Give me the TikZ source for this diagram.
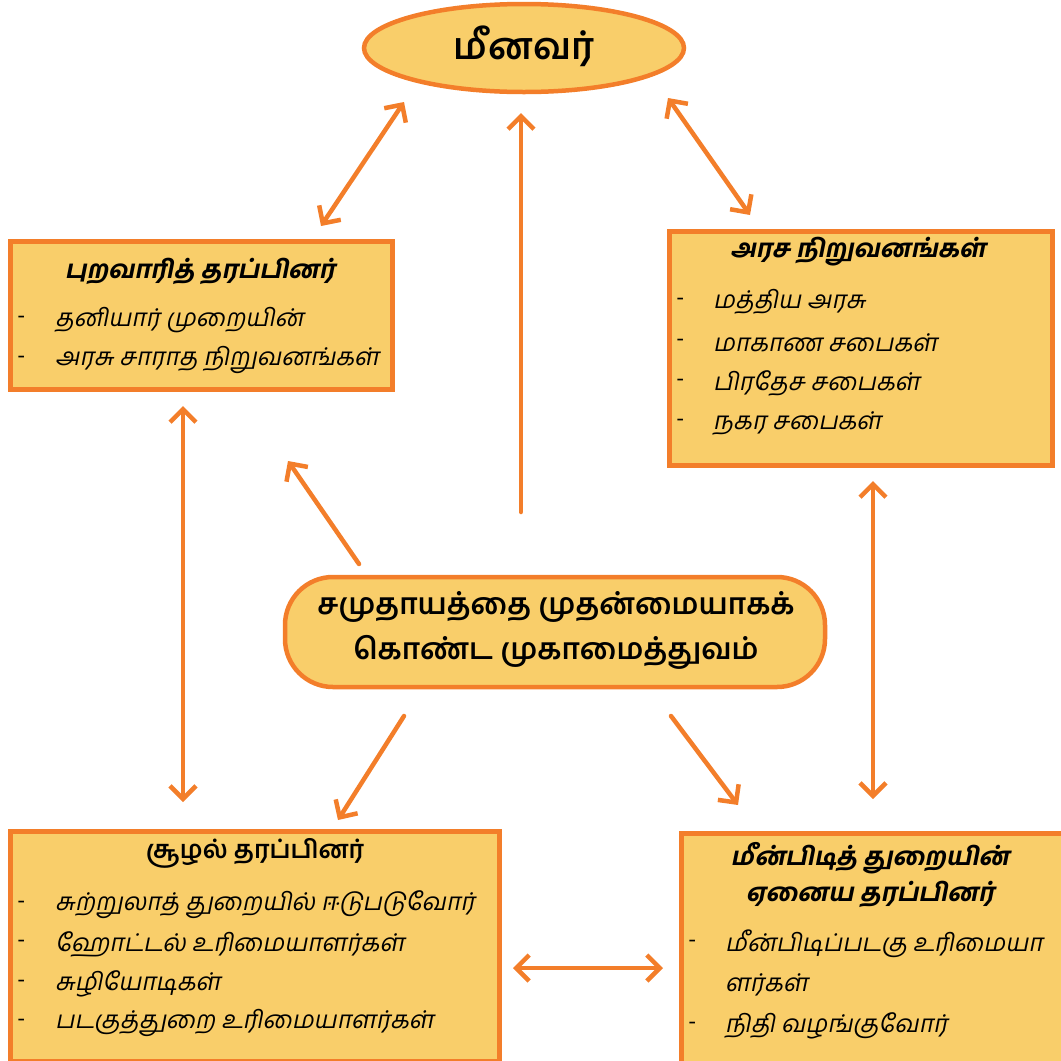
\documentclass[tikz,border=0pt]{standalone}
\usepackage{fontspec}
\setmainfont{Hind Madurai}[Script=Tamil, ItalicFont={Hind Madurai}, ItalicFeatures={FakeSlant=0.2}, BoldItalicFont={Hind Madurai Bold}, BoldItalicFeatures={FakeSlant=0.2}]
\usetikzlibrary{arrows.meta,shapes.geometric}
\definecolor{boxfill}{RGB}{249,206,106}
\definecolor{boxline}{RGB}{243,126,42}
\tikzset{
  box/.style={draw=boxline, fill=boxfill, line width=4.5pt, inner sep=0pt, anchor=north west},
  head/.style={font=\fontsize{25}{29}\selectfont\bfseries, anchor=center, align=center},
  headit/.style={font=\fontsize{25}{36}\selectfont\bfseries\itshape, anchor=center, align=center},
  item/.style={font=\fontsize{24.5}{28}\selectfont\itshape, anchor=west, inner sep=0pt},
  dashmark/.style={font=\fontsize{24}{28}\selectfont, anchor=west, inner sep=0pt},
  conn/.style={draw=boxline, line width=4.5pt, line cap=round},
  bi/.style={conn, {Straight Barb[length=13pt,width=26pt]}-{Straight Barb[length=13pt,width=26pt]}},
  uni/.style={conn, -{Straight Barb[length=13pt,width=26pt]}},
}
\begin{document}
\begin{tikzpicture}[x=1pt,y=-1pt]
\useasboundingbox (0,0) rectangle (1061,1061);
% ellipse
\node[ellipse, draw=boxline, fill=boxfill, line width=4.5pt, minimum width=320pt, minimum height=88pt, inner sep=0pt] (fish) at (524,48) {};
\node[font=\fontsize{37}{40}\selectfont\bfseries] (fisht) at (524,46) {மீனவர்};
% top left box
\node[box, minimum width=382pt, minimum height=148pt] (lt) at (8,239) {};
\node[headit] (ltt) at (200,271) {புறவாரித் தரப்பினர்};
\node[dashmark] (ltd1) at (17,320) {-};
\node[item] (lti1) at (55,320) {தனியார் முறையின்};
\node[dashmark] (ltd2) at (17,360) {-};
\node[item] (lti2) at (55,360) {அரசு சாராத நிறுவனங்கள்};
% top right box
\node[box, minimum width=383pt, minimum height=234pt] (rt) at (667,229) {};
\node[headit] (rtt) at (858,252) {அரச நிறுவனங்கள்};
\node[dashmark] (rtd1) at (676,302) {-};
\node[item] (rti1) at (713,302) {மத்திய அரசு};
\node[dashmark] (rtd2) at (676,343) {-};
\node[item] (rti2) at (713,343) {மாகாண சபைகள்};
\node[dashmark] (rtd3) at (676,383) {-};
\node[item] (rti3) at (713,383) {பிரதேச சபைகள்};
\node[dashmark] (rtd4) at (676,423) {-};
\node[item] (rti4) at (713,423) {நகர சபைகள்};
% center rounded box
\node[draw=boxline, fill=boxfill, line width=4.5pt, rounded corners=48pt, minimum width=540pt, minimum height=110pt, inner sep=0pt] (ctr) at (555,632) {};
\node[font=\fontsize{29.5}{45}\selectfont\bfseries, align=center] (ctrt) at (556,630) {சமுதாயத்தை முதன்மையாகக்\\கொண்ட முகாமைத்துவம்};
% bottom left box
\node[box, minimum width=489pt, minimum height=230pt] (lb) at (8,829) {};
\node[head] (lbt) at (255,853) {சூழல் தரப்பினர்};
\node[dashmark] (lbd1) at (17,905) {-};
\node[item] (lbi1) at (55,905) {சுற்றுலாத் துறையில் ஈடுபடுவோர்};
\node[dashmark] (lbd2) at (17,944) {-};
\node[item] (lbi2) at (55,944) {ஹோட்டல் உரிமையாளர்கள்};
\node[dashmark] (lbd3) at (17,984) {-};
\node[item] (lbi3) at (55,984) {சுழியோடிகள்};
\node[dashmark] (lbd4) at (17,1023) {-};
\node[item] (lbi4) at (55,1023) {படகுத்துறை உரிமையாளர்கள்};
% bottom right box
\node[box, minimum width=400pt, minimum height=240pt] (rb) at (679,831) {};
\node[headit] (rbt) at (870,875) {மீன்பிடித் துறையின்\\ஏனைய தரப்பினர்};
\node[dashmark] (rbd1) at (688,944) {-};
\node[item] (rbi1) at (725,944) {மீன்பிடிப்படகு உரிமையா};
\node[item] (rbi1b) at (725,985) {ளர்கள்};
\node[dashmark] (rbd2) at (688,1026) {-};
\node[item] (rbi2) at (725,1026) {நிதி வழங்குவோர்};
% connector end points
\coordinate (a1s) at (321,226); \coordinate (a1e) at (404,102);
\coordinate (a2s) at (521,512); \coordinate (a2e) at (521,113);
\coordinate (a3s) at (668,98);  \coordinate (a3e) at (750,215);
\coordinate (a4s) at (183,406); \coordinate (a4e) at (183,802);
\coordinate (a5s) at (359,564); \coordinate (a5e) at (288,461);
\coordinate (a6s) at (873,481); \coordinate (a6e) at (873,799);
\coordinate (a7s) at (404,716); \coordinate (a7e) at (338,820);
\coordinate (a8s) at (671,716); \coordinate (a8e) at (738,805);
\coordinate (a9s) at (513,968); \coordinate (a9e) at (663,968);
\draw[bi] (a1s) -- (a1e);
\draw[uni] (a2s) -- (a2e);
\draw[bi] (a3s) -- (a3e);
\draw[bi] (a4s) -- (a4e);
\draw[uni] (a5s) -- (a5e);
\draw[bi] (a6s) -- (a6e);
\draw[uni] (a7s) -- (a7e);
\draw[uni] (a8s) -- (a8e);
\draw[bi] (a9s) -- (a9e);
\end{tikzpicture}
\end{document}
